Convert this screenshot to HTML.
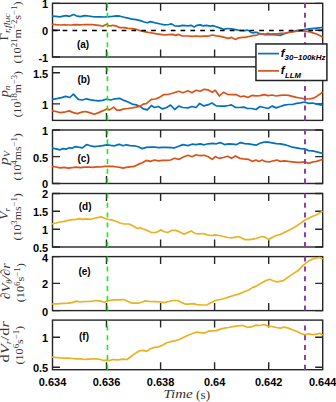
<!DOCTYPE html>
<html><head><meta charset="utf-8"><style>
html,body{margin:0;padding:0;background:#fff;width:336px;height:402px;overflow:hidden}
svg{display:block}
.tl{font-family:"Liberation Sans",sans-serif;font-weight:bold;font-size:11px;fill:#000}
.pl{font-family:"Liberation Sans",sans-serif;font-weight:bold;font-size:10px;fill:#000}
.lg{font-family:"Liberation Sans",sans-serif;font-weight:bold;font-style:italic;font-size:11.5px;fill:#000}
.lgs{font-family:"Liberation Sans",sans-serif;font-weight:bold;font-style:italic;font-size:7.7px;fill:#000}
.xl{font-family:"Liberation Serif",serif;font-size:12px;fill:#333}
.yl1{font-family:"Liberation Serif",serif;font-size:12px;fill:#333}
.yl2{font-family:"Liberation Serif",serif;font-size:11px;fill:#333}
.big{font-size:13.5px}
.sub{font-size:8px;font-style:italic}
.sup{font-size:8px}
</style></head><body>
<svg width="336" height="402" viewBox="0 0 336 402">
<rect width="336" height="402" fill="#fff"/>
<clipPath id="ca"><rect x="51.5" y="2.35" width="272.2" height="55.65"/></clipPath>
<clipPath id="cb"><rect x="51.5" y="65.8" width="272.2" height="55.60000000000001"/></clipPath>
<clipPath id="cc"><rect x="51.5" y="129.0" width="272.2" height="55.5"/></clipPath>
<clipPath id="cd"><rect x="51.5" y="192.5" width="272.2" height="55.5"/></clipPath>
<clipPath id="ce"><rect x="51.5" y="255.60000000000002" width="272.2" height="56.0"/></clipPath>
<clipPath id="cf"><rect x="51.5" y="319.1" width="272.2" height="51.599999999999966"/></clipPath>
<rect x="52.5" y="3.35" width="270.2" height="53.65" fill="none" stroke="#262626" stroke-width="1.4"/>
<path d="M106.5 57.0V49.5M106.5 3.35V10.85M160.6 57.0V49.5M160.6 3.35V10.85M214.6 57.0V49.5M214.6 3.35V10.85M268.7 57.0V49.5M268.7 3.35V10.85M52.5 3.35H60.0M322.7 3.35H315.2M52.5 30.2H60.0M322.7 30.2H315.2M52.5 57.0H60.0M322.7 57.0H315.2" stroke="#262626" stroke-width="1.4" fill="none"/>
<g clip-path="url(#ca)">
<polyline points="52.0,16.2 56.0,16.4 60.1,16.8 63.1,16.2 66.2,15.6 69.2,16.4 73.3,14.5 76.3,15.8 80.3,16.6 84.4,15.6 88.4,16.0 92.5,16.6 96.5,16.8 100.6,16.8 104.6,17.0 108.7,16.6 112.7,16.4 116.8,15.8 120.0,16.2 124.0,17.2 128.1,18.2 132.1,19.2 136.2,19.6 140.2,20.6 144.3,22.0 147.3,22.8 150.4,21.6 153.4,22.4 156.4,23.2 160.5,24.0 164.5,24.9 168.6,24.5 171.6,23.9 174.7,25.9 178.7,26.1 182.8,25.3 188.0,25.9 191.0,25.3 194.1,26.9 197.1,25.3 200.1,24.9 203.2,25.9 206.2,25.3 210.3,26.1 213.3,25.7 216.3,26.7 220.4,28.1 223.4,29.3 227.5,28.5 231.5,28.9 235.6,29.7 239.6,30.5 245.0,30.7 247.0,30.0 249.0,30.7 251.0,32.4 253.0,33.0 255.0,32.4 257.0,32.4 259.0,33.4 261.0,34.0 265.0,34.7 269.0,34.4 273.0,34.7 277.0,35.0 280.5,35.4 283.0,34.3 286.5,33.0 290.0,32.0 293.0,31.5 296.9,30.7 302.9,29.8 308.8,28.9 314.8,28.3 320.7,27.7 322.7,27.4" fill="none" stroke="#0072BD" stroke-width="1.7" stroke-linejoin="round"/>
<polyline points="52.0,24.3 56.0,24.7 60.0,25.0 64.1,24.9 68.2,25.0 72.2,24.9 76.3,24.7 80.3,24.9 84.4,24.5 88.4,24.7 92.5,24.7 96.5,25.1 100.6,25.7 102.6,26.3 104.6,25.3 106.7,24.3 108.7,25.7 110.7,25.9 112.7,25.3 115.8,25.9 120.0,27.7 124.0,27.7 128.1,28.3 132.1,28.7 136.2,29.3 140.2,30.7 144.3,31.7 148.3,32.4 152.4,33.0 156.4,33.8 160.5,34.4 164.5,35.0 168.6,34.6 172.6,34.4 175.7,35.4 178.7,34.4 181.7,35.8 188.0,36.0 192.0,36.4 196.1,36.0 200.1,36.4 204.2,36.0 208.2,36.2 212.3,35.0 216.3,35.8 220.4,36.4 224.4,37.4 228.5,38.4 231.5,37.4 235.6,39.4 238.6,37.8 242.7,37.4 245.0,37.4 249.0,36.5 253.0,35.7 257.0,35.1 259.7,33.8 262.4,33.8 265.0,34.3 267.8,33.4 270.4,34.0 273.0,33.8 277.0,33.8 281.0,33.4 285.0,33.1 288.6,32.5 292.1,31.9 295.7,31.3 299.3,31.0 302.9,31.0 306.4,31.3 310.0,31.9 313.6,33.1 317.1,34.3 320.7,36.1 322.7,37.2" fill="none" stroke="#D95319" stroke-width="1.7" stroke-linejoin="round"/>
<line x1="52.5" y1="30.4" x2="322.7" y2="30.4" stroke="#000" stroke-width="1.5" stroke-dasharray="4.7 5.13" stroke-dashoffset="-0.3"/>
<line x1="107.45" y1="57.0" x2="107.45" y2="3.35" stroke="#00FF00" stroke-width="1.6" stroke-dasharray="5 4.8"/>
<line x1="305.0" y1="57.0" x2="305.0" y2="3.35" stroke="#8E40A6" stroke-width="2" stroke-dasharray="5 4.8"/>
</g>
<text x="48.2" y="8.2" class="tl" text-anchor="end">1</text>
<text x="48.2" y="35.1" class="tl" text-anchor="end">0</text>
<text x="48.2" y="61.9" class="tl" text-anchor="end">-1</text>
<text x="83.10" y="47.7" class="pl" text-anchor="middle">(a)</text>
<rect x="52.5" y="66.8" width="270.2" height="53.60000000000001" fill="none" stroke="#262626" stroke-width="1.4"/>
<path d="M106.5 120.4V112.9M106.5 66.8V74.3M160.6 120.4V112.9M160.6 66.8V74.3M214.6 120.4V112.9M214.6 66.8V74.3M268.7 120.4V112.9M268.7 66.8V74.3M52.5 72.7H60.0M322.7 72.7H315.2M52.5 103.9H60.0M322.7 103.9H315.2" stroke="#262626" stroke-width="1.4" fill="none"/>
<g clip-path="url(#cb)">
<polyline points="52.0,99.3 56.8,98.6 61.5,97.6 65.7,96.4 69.9,97.5 73.4,94.2 78.3,99.4 82.4,100.0 86.4,98.8 90.5,99.8 94.5,100.4 98.6,100.8 102.6,100.4 106.7,99.0 110.7,100.0 114.8,98.8 120.0,98.4 124.0,100.4 128.1,102.0 132.1,104.1 136.2,104.9 140.2,106.5 143.3,108.9 147.3,109.9 151.4,105.5 154.4,107.5 158.5,106.5 162.5,108.9 166.6,107.5 170.6,105.1 174.7,109.5 178.7,106.1 182.8,107.5 188.0,107.9 192.0,106.5 196.1,107.5 199.7,103.4 203.8,105.9 207.8,104.9 211.9,103.0 216.3,105.9 220.4,106.1 224.4,106.1 228.5,105.5 231.5,104.9 235.6,107.5 239.6,107.5 243.7,107.1 247.7,108.5 251.8,108.5 256.0,109.5 260.0,106.5 264.1,107.5 268.1,108.5 272.2,106.1 276.2,107.9 280.3,106.5 284.3,105.1 288.4,104.5 292.4,104.5 296.5,103.4 300.5,102.8 304.6,102.0 308.6,103.4 312.7,103.0 316.7,104.1 320.8,104.9 322.7,105.1" fill="none" stroke="#0072BD" stroke-width="1.7" stroke-linejoin="round"/>
<polyline points="52.0,110.9 56.0,111.5 60.1,112.6 64.1,112.2 69.2,110.9 73.3,112.6 77.3,113.6 81.4,112.2 85.4,111.5 89.4,112.6 94.5,114.2 98.6,112.6 102.6,110.9 106.7,108.9 109.7,109.9 113.7,107.1 116.8,110.1 120.0,110.1 124.0,108.9 128.1,108.5 132.1,107.9 136.2,107.1 140.2,106.1 143.3,104.1 146.3,103.7 151.4,99.4 155.4,99.0 159.5,97.4 163.5,94.7 168.6,94.3 172.6,93.3 178.7,91.3 182.8,92.7 188.0,90.7 192.0,92.7 196.1,90.3 200.1,91.3 204.2,89.3 208.2,89.9 212.3,92.3 215.3,90.3 219.4,96.0 223.4,92.3 227.5,94.3 231.5,94.7 236.6,94.7 240.6,96.8 243.7,96.0 247.7,97.4 251.8,95.4 256.0,95.9 260.0,95.6 264.1,94.7 268.1,95.6 272.2,95.0 276.2,96.0 280.3,95.4 284.3,95.0 288.4,95.4 292.4,96.4 296.5,97.4 300.5,98.0 304.6,98.8 308.6,99.0 312.7,98.4 316.7,96.4 319.8,94.3 322.7,91.9" fill="none" stroke="#D95319" stroke-width="1.7" stroke-linejoin="round"/>
<line x1="107.45" y1="120.4" x2="107.45" y2="66.8" stroke="#00FF00" stroke-width="1.6" stroke-dasharray="5 4.8"/>
<line x1="305.0" y1="120.4" x2="305.0" y2="66.8" stroke="#8E40A6" stroke-width="2" stroke-dasharray="5 4.8"/>
</g>
<text x="48.2" y="77.6" class="tl" text-anchor="end">1.5</text>
<text x="48.2" y="108.8" class="tl" text-anchor="end">1</text>
<text x="83.80" y="83.2" class="pl" text-anchor="middle">(b)</text>
<rect x="52.5" y="130.0" width="270.2" height="53.5" fill="none" stroke="#262626" stroke-width="1.4"/>
<path d="M106.5 183.5V176.0M106.5 130.0V137.5M160.6 183.5V176.0M160.6 130.0V137.5M214.6 183.5V176.0M214.6 130.0V137.5M268.7 183.5V176.0M268.7 130.0V137.5M52.5 130.0H60.0M322.7 130.0H315.2M52.5 156.6H60.0M322.7 156.6H315.2M52.5 183.5H60.0M322.7 183.5H315.2" stroke="#262626" stroke-width="1.4" fill="none"/>
<g clip-path="url(#cc)">
<polyline points="52.0,148.2 56.0,148.8 60.1,149.8 63.1,148.6 66.2,149.2 69.2,147.8 72.2,148.2 75.3,146.6 78.3,147.2 82.4,147.8 86.4,144.6 90.5,145.8 94.5,146.6 98.6,146.2 102.6,145.6 106.7,144.8 110.7,145.4 114.8,145.8 117.8,144.6 120.0,144.4 123.0,145.8 126.1,144.8 130.1,145.6 134.2,145.8 138.2,146.8 142.3,148.6 146.3,147.4 150.4,147.2 154.4,147.0 158.5,147.6 162.5,147.4 166.6,147.4 170.6,147.6 174.7,147.8 178.7,146.2 182.8,144.6 188.0,145.6 192.0,144.2 196.1,144.6 200.1,143.8 204.2,144.8 208.2,143.8 212.3,143.4 216.3,143.8 220.4,142.6 224.4,144.6 228.5,143.8 232.5,144.2 236.6,144.6 240.6,142.6 244.7,143.6 248.7,143.8 252.8,144.6 256.0,145.2 260.0,143.2 264.1,142.1 268.1,142.1 272.2,142.8 276.2,143.6 280.3,143.8 284.3,144.6 288.4,145.8 292.4,147.2 296.5,147.8 300.5,148.6 304.6,148.8 308.6,150.6 312.7,150.9 316.7,151.9 320.8,152.9 322.7,153.3" fill="none" stroke="#0072BD" stroke-width="1.7" stroke-linejoin="round"/>
<polyline points="52.0,166.4 56.0,167.0 60.1,167.9 64.1,167.4 68.2,168.1 72.2,167.7 76.3,167.2 80.3,167.7 84.4,167.2 88.4,167.0 92.5,167.4 96.5,166.8 100.6,167.0 104.6,166.4 108.7,166.4 112.7,166.4 116.8,167.0 120.0,167.4 123.0,168.1 126.1,167.4 130.1,166.8 134.2,166.4 138.2,164.4 142.3,162.8 146.3,160.4 150.4,161.4 154.4,160.0 158.5,160.8 162.5,160.4 166.6,160.4 170.6,160.0 174.7,158.3 178.7,159.4 182.8,157.3 188.0,155.3 192.0,156.7 196.1,154.7 200.1,155.7 204.2,155.3 208.2,156.7 212.3,159.4 215.3,156.7 219.4,158.3 223.4,157.5 227.5,156.3 231.5,158.3 235.6,155.9 239.6,158.3 243.7,158.9 248.7,159.4 252.4,161.4 256.0,160.0 259.0,161.4 262.1,160.0 265.1,161.4 269.2,162.0 273.2,160.8 277.3,160.0 280.3,161.4 284.3,160.8 288.4,161.4 292.4,161.8 296.5,162.4 300.5,162.4 304.6,161.8 308.6,163.4 312.7,162.0 316.7,161.4 320.8,160.0 322.7,159.4" fill="none" stroke="#D95319" stroke-width="1.7" stroke-linejoin="round"/>
<line x1="107.45" y1="183.5" x2="107.45" y2="130.0" stroke="#00FF00" stroke-width="1.6" stroke-dasharray="5 4.8"/>
<line x1="305.0" y1="183.5" x2="305.0" y2="130.0" stroke="#8E40A6" stroke-width="2" stroke-dasharray="5 4.8"/>
</g>
<text x="48.2" y="134.9" class="tl" text-anchor="end">1</text>
<text x="48.2" y="161.5" class="tl" text-anchor="end">0.5</text>
<text x="48.2" y="188.4" class="tl" text-anchor="end">0</text>
<text x="83.65" y="162.2" class="pl" text-anchor="middle">(c)</text>
<rect x="52.5" y="193.5" width="270.2" height="53.5" fill="none" stroke="#262626" stroke-width="1.4"/>
<path d="M106.5 247.0V239.5M106.5 193.5V201.0M160.6 247.0V239.5M160.6 193.5V201.0M214.6 247.0V239.5M214.6 193.5V201.0M268.7 247.0V239.5M268.7 193.5V201.0M52.5 193.5H60.0M322.7 193.5H315.2M52.5 211.3H60.0M322.7 211.3H315.2M52.5 229.3H60.0M322.7 229.3H315.2M52.5 247.0H60.0M322.7 247.0H315.2" stroke="#262626" stroke-width="1.4" fill="none"/>
<g clip-path="url(#cd)">
<polyline points="52.0,223.8 56.0,223.0 60.1,222.0 64.1,221.3 68.2,220.3 72.2,219.7 76.3,219.3 79.3,218.7 82.4,219.3 86.4,218.9 90.5,219.3 94.5,218.3 98.6,217.3 101.6,216.9 104.6,218.3 107.7,219.3 111.7,219.9 115.8,221.3 120.0,223.0 124.0,224.0 129.1,224.0 133.2,226.0 137.2,228.4 140.2,227.8 143.3,229.0 147.3,230.4 151.4,232.5 155.4,232.5 158.5,231.5 160.5,229.8 163.5,231.5 167.6,232.5 171.6,230.4 175.7,230.4 179.7,231.9 183.8,234.1 188.0,232.5 191.0,230.9 195.1,233.5 199.1,233.9 203.2,233.5 207.2,234.9 211.3,235.5 215.3,234.9 219.4,235.5 223.4,236.5 227.5,237.5 231.5,237.9 235.6,237.1 238.6,236.5 241.6,237.9 244.7,239.6 248.7,239.6 252.8,239.2 256.0,238.5 259.0,237.5 262.1,236.5 265.1,237.1 268.6,239.6 272.2,237.5 276.2,235.5 280.3,234.5 284.3,232.5 288.4,230.4 292.4,228.4 296.5,226.0 300.5,223.4 304.6,220.3 308.6,218.3 312.7,216.3 316.7,214.7 320.8,212.2 322.7,211.2" fill="none" stroke="#EDB120" stroke-width="1.7" stroke-linejoin="round"/>
<line x1="107.45" y1="247.0" x2="107.45" y2="193.5" stroke="#00FF00" stroke-width="1.6" stroke-dasharray="5 4.8"/>
<line x1="305.0" y1="247.0" x2="305.0" y2="193.5" stroke="#8E40A6" stroke-width="2" stroke-dasharray="5 4.8"/>
</g>
<text x="48.2" y="198.4" class="tl" text-anchor="end">2</text>
<text x="48.2" y="216.2" class="tl" text-anchor="end">1.5</text>
<text x="48.2" y="234.2" class="tl" text-anchor="end">1</text>
<text x="48.2" y="251.9" class="tl" text-anchor="end">0.5</text>
<text x="85.10" y="210.1" class="pl" text-anchor="middle">(d)</text>
<rect x="52.5" y="256.6" width="270.2" height="54.0" fill="none" stroke="#262626" stroke-width="1.4"/>
<path d="M106.5 310.6V303.1M106.5 256.6V264.1M160.6 310.6V303.1M160.6 256.6V264.1M214.6 310.6V303.1M214.6 256.6V264.1M268.7 310.6V303.1M268.7 256.6V264.1M52.5 256.6H60.0M322.7 256.6H315.2M52.5 283.4H60.0M322.7 283.4H315.2M52.5 310.6H60.0M322.7 310.6H315.2" stroke="#262626" stroke-width="1.4" fill="none"/>
<g clip-path="url(#ce)">
<polyline points="52.0,304.0 56.0,303.8 60.1,303.6 64.1,303.4 68.2,303.2 72.2,302.6 76.3,301.1 80.3,302.0 84.4,301.5 88.4,301.5 92.5,301.1 96.5,300.5 100.6,301.1 104.6,302.2 107.7,300.9 111.7,300.1 115.8,299.9 120.0,299.9 124.0,299.5 128.1,301.5 132.1,303.2 138.2,303.2 142.3,302.0 145.3,300.9 150.4,301.5 155.4,301.7 160.5,302.0 164.5,302.6 168.6,301.5 172.6,300.5 177.7,300.5 181.7,302.6 185.8,304.2 188.0,304.2 193.1,303.6 197.1,304.6 201.2,305.0 207.2,304.8 211.3,302.6 215.3,300.5 220.4,299.5 224.4,298.5 228.5,297.1 233.5,295.5 238.6,294.1 243.7,292.0 248.7,290.0 252.8,287.4 256.0,286.4 260.0,283.7 265.1,280.9 269.8,279.3 273.2,280.7 277.3,281.9 283.3,280.7 288.4,276.9 293.4,273.6 298.5,270.2 301.5,267.1 304.6,264.1 308.6,261.1 312.7,259.0 316.7,258.0 319.8,257.6 322.7,259.0" fill="none" stroke="#EDB120" stroke-width="1.7" stroke-linejoin="round"/>
<line x1="107.45" y1="310.6" x2="107.45" y2="256.6" stroke="#00FF00" stroke-width="1.6" stroke-dasharray="5 4.8"/>
<line x1="305.0" y1="310.6" x2="305.0" y2="256.6" stroke="#8E40A6" stroke-width="2" stroke-dasharray="5 4.8"/>
</g>
<text x="48.2" y="261.5" class="tl" text-anchor="end">4</text>
<text x="48.2" y="288.3" class="tl" text-anchor="end">2</text>
<text x="48.2" y="315.5" class="tl" text-anchor="end">0</text>
<text x="84.55" y="274.5" class="pl" text-anchor="middle">(e)</text>
<rect x="52.5" y="320.1" width="270.2" height="49.599999999999966" fill="none" stroke="#262626" stroke-width="1.4"/>
<path d="M106.5 369.7V362.2M106.5 320.1V327.6M160.6 369.7V362.2M160.6 320.1V327.6M214.6 369.7V362.2M214.6 320.1V327.6M268.7 369.7V362.2M268.7 320.1V327.6M52.5 337.2H60.0M322.7 337.2H315.2M52.5 367.3H60.0M322.7 367.3H315.2" stroke="#262626" stroke-width="1.4" fill="none"/>
<g clip-path="url(#cf)">
<polyline points="52.0,357.1 56.0,357.5 60.1,357.9 64.1,358.1 68.2,358.1 72.2,358.5 76.3,358.9 80.3,358.9 84.4,359.5 88.4,359.1 92.5,358.9 96.5,358.9 100.6,359.5 103.6,360.5 106.7,360.1 109.7,360.5 112.7,359.5 116.8,359.9 120.0,359.7 123.0,359.1 127.1,359.5 131.1,356.5 135.2,353.4 139.2,351.0 143.3,350.4 146.7,351.4 150.4,348.8 154.4,347.4 158.5,346.9 162.5,345.3 166.6,342.7 170.6,341.7 174.7,340.9 178.7,339.7 182.8,337.8 188.0,335.2 192.0,333.8 196.1,332.2 200.1,332.6 204.2,333.2 208.2,331.2 212.3,330.8 216.3,330.6 220.4,329.1 224.4,328.1 228.5,327.5 232.5,326.7 236.6,326.1 240.6,325.5 243.7,325.7 247.7,327.5 251.8,326.7 256.0,325.1 260.0,325.5 264.1,324.5 268.1,326.1 272.2,326.5 276.2,327.5 280.3,328.1 284.3,327.1 288.4,328.1 292.4,329.7 296.5,331.2 300.5,333.2 304.6,334.8 308.6,333.8 312.7,334.6 316.7,334.2 319.8,333.2 322.7,335.2" fill="none" stroke="#EDB120" stroke-width="1.7" stroke-linejoin="round"/>
<line x1="107.45" y1="369.7" x2="107.45" y2="320.1" stroke="#00FF00" stroke-width="1.6" stroke-dasharray="5 4.8"/>
<line x1="305.0" y1="369.7" x2="305.0" y2="320.1" stroke="#8E40A6" stroke-width="2" stroke-dasharray="5 4.8"/>
</g>
<text x="48.2" y="342.1" class="tl" text-anchor="end">1</text>
<text x="48.2" y="372.2" class="tl" text-anchor="end">0.5</text>
<text x="84.00" y="340.0" class="pl" text-anchor="middle">(f)</text>
<text x="52.5" y="385.8" class="tl" text-anchor="middle">0.634</text>
<text x="106.5" y="385.8" class="tl" text-anchor="middle">0.636</text>
<text x="160.6" y="385.8" class="tl" text-anchor="middle">0.638</text>
<text x="214.6" y="385.8" class="tl" text-anchor="middle">0.64</text>
<text x="268.7" y="385.8" class="tl" text-anchor="middle">0.642</text>
<text x="322.7" y="385.8" class="tl" text-anchor="middle">0.644</text>
<rect x="255.95" y="43.95" width="70.95" height="36.55" fill="#fff" stroke="#222" stroke-width="1.5"/>
<line x1="258" y1="53.6" x2="279" y2="53.6" stroke="#0072BD" stroke-width="1.7"/>
<line x1="258" y1="70.9" x2="279" y2="70.9" stroke="#D95319" stroke-width="1.7"/>
<text x="280.7" y="56.6" class="lg">f</text><text x="284.5" y="60.3" class="lgs" textLength="41" lengthAdjust="spacingAndGlyphs">30~100kHz</text>
<text x="280.7" y="74" class="lg">f</text><text x="285" y="77.8" class="lgs">LLM</text>
<text x="163.6" y="398.4" class="xl" font-style="italic" textLength="29.2" lengthAdjust="spacingAndGlyphs">Time</text>
<text x="196.1" y="398.6" class="xl" style="font-size:12.5px" textLength="14" lengthAdjust="spacingAndGlyphs">(s)</text>
<text transform="translate(8.3,27.0) rotate(-90)" text-anchor="middle" class="yl1" textLength="27" lengthAdjust="spacingAndGlyphs">Γ<tspan class="sub" style="font-size:9px" dy="2">r,fluc</tspan></text>
<text transform="translate(21.4,32.5) rotate(-90)" text-anchor="middle" class="yl2" textLength="62.2" lengthAdjust="spacingAndGlyphs">(10<tspan class="sup" dy="-4">21</tspan><tspan dy="4">m</tspan><tspan class="sup" dy="-4">−2</tspan><tspan dy="4">s</tspan><tspan class="sup" dy="-4">−1</tspan><tspan dy="4">)</tspan></text>
<text transform="translate(8.3,91.3) rotate(-90)" text-anchor="middle" class="yl1" textLength="11.5" lengthAdjust="spacingAndGlyphs"><tspan font-style="italic">p</tspan><tspan class="sub" dy="2">n</tspan></text>
<text transform="translate(20.8,94.2) rotate(-90)" text-anchor="middle" class="yl2" textLength="46.2" lengthAdjust="spacingAndGlyphs">(10<tspan class="sup" dy="-4">18</tspan><tspan dy="4">m</tspan><tspan class="sup" dy="-4">−3</tspan><tspan dy="4">)</tspan></text>
<text transform="translate(8.3,157.9) rotate(-90)" text-anchor="middle" class="yl1" textLength="14" lengthAdjust="spacingAndGlyphs"><tspan font-style="italic">p</tspan><tspan class="sub" dy="1.5">V</tspan></text>
<text transform="translate(20.8,156.9) rotate(-90)" text-anchor="middle" class="yl2" textLength="47.2" lengthAdjust="spacingAndGlyphs">(10<tspan class="sup" dy="-4">4</tspan><tspan dy="4">ms</tspan><tspan class="sup" dy="-4">−1</tspan><tspan dy="4">)</tspan></text>
<text transform="translate(8.0,213.9) rotate(-90)" text-anchor="middle" class="yl1" textLength="11.7" lengthAdjust="spacingAndGlyphs"><tspan font-style="italic">V</tspan><tspan class="sub" dy="2">r</tspan></text>
<text transform="translate(21.4,216.9) rotate(-90)" text-anchor="middle" class="yl2" textLength="47.3" lengthAdjust="spacingAndGlyphs">(10<tspan class="sup" dy="-4">3</tspan><tspan dy="4">ms</tspan><tspan class="sup" dy="-4">−1</tspan><tspan dy="4">)</tspan></text>
<text transform="translate(9.5,281.2) rotate(-90)" text-anchor="middle" class="yl1 big" textLength="36" lengthAdjust="spacingAndGlyphs"><tspan font-style="italic">∂V</tspan><tspan class="sub" dy="2">θ</tspan><tspan dy="-2" font-style="italic">/∂r</tspan></text>
<text transform="translate(24.4,282.7) rotate(-90)" text-anchor="middle" class="yl2" textLength="39.1" lengthAdjust="spacingAndGlyphs">(10<tspan class="sup" dy="-4">6</tspan><tspan dy="4">s</tspan><tspan class="sup" dy="-4">−1</tspan><tspan dy="4">)</tspan></text>
<text transform="translate(9.2,341.8) rotate(-90)" text-anchor="middle" class="yl1 big" textLength="41.4" lengthAdjust="spacingAndGlyphs">d<tspan font-style="italic">V</tspan><tspan class="sub" dy="2">r</tspan><tspan dy="-2">/d</tspan><tspan font-style="italic">r</tspan></text>
<text transform="translate(23.4,345.2) rotate(-90)" text-anchor="middle" class="yl2" textLength="38.6" lengthAdjust="spacingAndGlyphs">(10<tspan class="sup" dy="-4">6</tspan><tspan dy="4">s</tspan><tspan class="sup" dy="-4">−1</tspan><tspan dy="4">)</tspan></text>
</svg>
</body></html>
